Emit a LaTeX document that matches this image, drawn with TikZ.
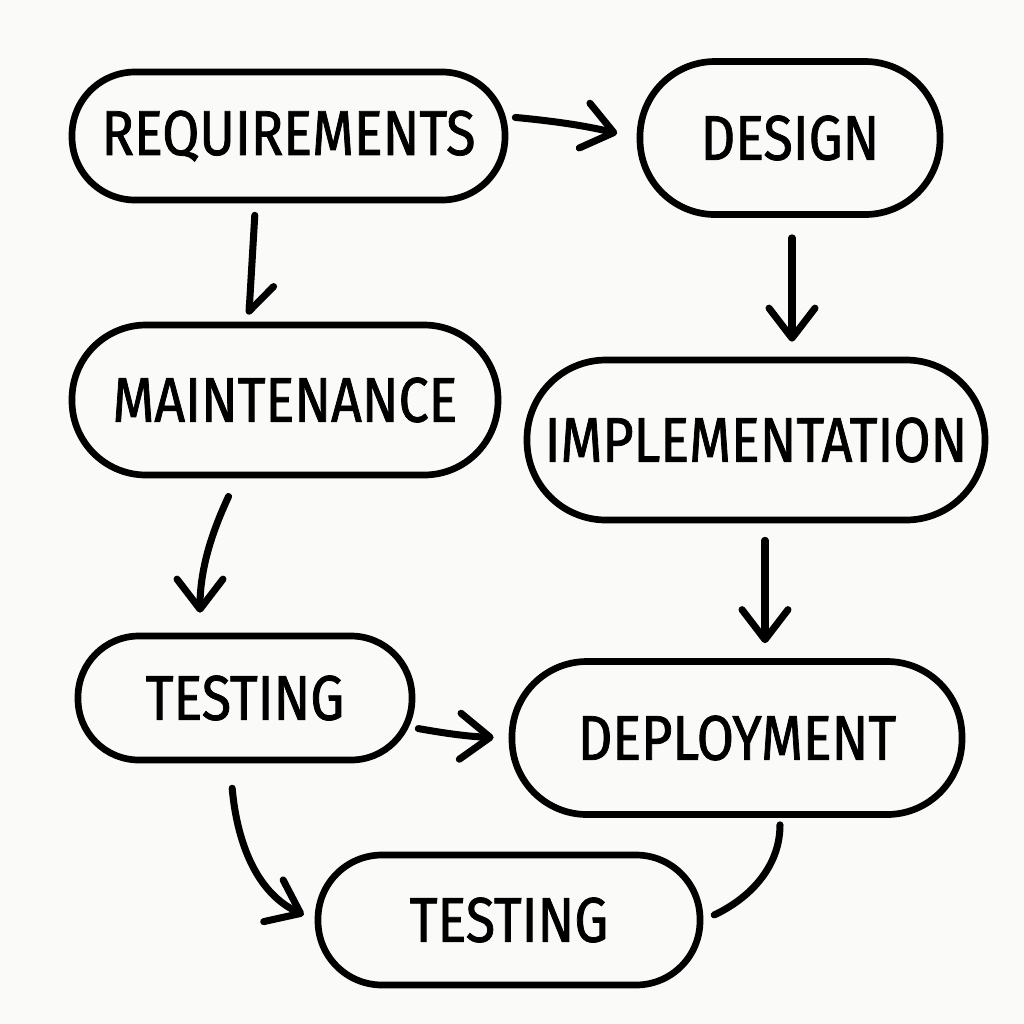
\documentclass[tikz,border=0pt]{standalone}
\usepackage{fontspec}
\setmainfont{Fira Sans}[FakeStretch=0.85,FakeBold=1.2]
\usetikzlibrary{arrows.meta}
\definecolor{paper}{RGB}{250,250,248}

\begin{document}
\begin{tikzpicture}[
  stage/.style={draw, line width=1.9pt, inner sep=0pt, font=\fontsize{18}{20}\selectfont},
  flow/.style={line width=2pt, line cap=round, -{Straight Barb[length=3mm,width=4.6mm,round]}},
  half/.style={line width=2pt, line cap=round, -{Straight Barb[harpoon,length=2.6mm,width=4.6mm,round]}}
]
\fill[paper] (0,0) rectangle (10.24,-10.24);
\useasboundingbox (0,0) rectangle (10.24,-10.24);

\node[stage, rounded corners=0.63cm, minimum width=4.33cm, minimum height=1.28cm] (req) at (2.885,-1.36) {REQUIREMENTS};
\node[stage, rounded corners=0.75cm, minimum width=3.0cm, minimum height=1.53cm] (des) at (7.9,-1.38) {DESIGN};
\node[stage, rounded corners=0.74cm, minimum width=4.26cm, minimum height=1.5cm] (mai) at (2.85,-4.0) {MAINTENANCE};
\node[stage, rounded corners=0.79cm, minimum width=4.58cm, minimum height=1.6cm] (imp) at (7.56,-4.4) {IMPLEMENTATION};
\node[stage, rounded corners=0.61cm, minimum width=3.34cm, minimum height=1.24cm] (tsa) at (2.45,-6.98) {TESTING};
\node[stage, rounded corners=0.75cm, minimum width=4.5cm, minimum height=1.53cm] (dep) at (7.37,-7.38) {DEPLOYMENT};
\node[stage, rounded corners=0.64cm, minimum width=3.82cm, minimum height=1.3cm] (tsb) at (5.09,-9.2) {TESTING};

\draw[flow, shorten <=0.07cm, shorten >=0.2cm] (req.5) to[bend left=4] (des.west);
\draw[flow, shorten <=0.2cm, shorten >=0.15cm] ([xshift=0.02cm]des.south) -- ([xshift=0.02cm]des.south |- imp.north);
\draw[half, shorten <=0.12cm, shorten >=0.07cm] ([xshift=-0.33cm]req.south) -- ([xshift=-0.4cm]req.south |- mai.north);
\draw[flow, shorten <=0.2cm, shorten >=0.2cm] ([xshift=-0.48cm]mai.south) to[out=-115,in=90] ([xshift=-0.45cm]tsa.north);
\draw[flow, shorten <=0.17cm, shorten >=0.15cm] ([xshift=0.09cm]imp.south) -- ([xshift=0.09cm]imp.south |- dep.north);
\draw[flow, shorten <=0.03cm, shorten >=0.15cm] (tsa.-10) to[bend right=4] (dep.west);
\draw[flow, shorten <=0.25cm, shorten >=0.12cm] ([xshift=-0.15cm]tsa.south) to[out=-85,in=155] (tsb.west);
\draw[line width=2pt, line cap=round, shorten <=0.07cm, shorten >=0.12cm] ([xshift=0.43cm]dep.south) to[out=-90,in=25] (tsb.east);
\end{tikzpicture}
\end{document}
